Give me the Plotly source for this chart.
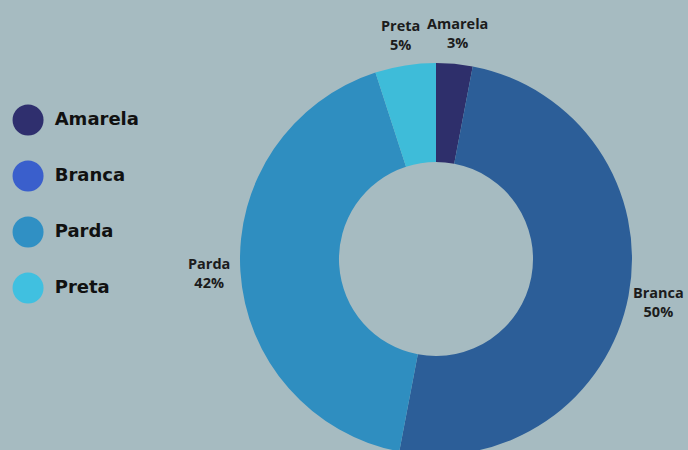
import math
import plotly.graph_objects as go

# Share of the population by colour/race category
categories = ["Amarela", "Branca", "Parda", "Preta"]
shares = [3, 50, 42, 5]

slice_colors = ["#2e2f6b", "#2c5e98", "#2f8ec0", "#3ebcd9"]
legend_colors = ["#2f2f6e", "#3a5fcc", "#3090c4", "#40c0e0"]

BG = "#a6bbc1"
W, H = 688, 455
TOP = 63
CX, CY, R = 436, 259, 196      # donut centre / outer radius in pixels
LABEL_R = 227                  # radius at which the slice labels sit

fig = go.Figure()

# Donut chart, first slice starting at 12 o'clock and going clockwise
fig.add_trace(go.Pie(
    labels=categories,
    values=shares,
    sort=False,
    direction="clockwise",
    rotation=0,
    hole=0.495,
    marker=dict(colors=slice_colors, line=dict(width=0)),
    textinfo="none",
    domain=dict(x=[(CX - R) / W, (CX + R) / W], y=[0, 1]),
    showlegend=False,
    hoverinfo="label+percent",
))


def to_paper(px, py):
    return px / W, (H - py) / (H - TOP)


# Slice labels placed along each slice's mid angle
total = sum(shares)
cum = 0
for name, val in zip(categories, shares):
    mid = (cum + val / 2) / total * 2 * math.pi
    cum += val
    px = CX + LABEL_R * math.sin(mid)
    py = CY - LABEL_R * math.cos(mid)
    x, y = to_paper(px, py)
    fig.add_annotation(
        x=x, y=y, xref="paper", yref="paper",
        text=f"{name}<br>{val}%",
        showarrow=False, align="center",
        xanchor="center", yanchor="middle",
        font=dict(family="Open Sans", size=14.5, color="#1c1c1c", weight="bold"),
    )

# Custom legend with round markers, stacked top to bottom
n = len(categories)
legend_y = list(range(n - 1, -1, -1))
fig.add_trace(go.Scatter(
    x=[28] * n,
    y=legend_y,
    mode="markers+text",
    marker=dict(size=31, color=legend_colors, line=dict(width=0)),
    text=[" " + c for c in categories],
    textposition="middle right",
    textfont=dict(family="DejaVu Sans", size=18, color="#111111", weight="bold"),
    showlegend=False,
    hoverinfo="skip",
    cliponaxis=False,
))

# y range chosen so the legend rows are ~56 px apart
span = (H - TOP) / 56
ymax = 3 + (120 - TOP) / 56
fig.update_layout(
    width=W,
    height=H,
    margin=dict(l=0, r=0, t=TOP, b=0),
    paper_bgcolor=BG,
    plot_bgcolor=BG,
    xaxis=dict(domain=[0, 0.3], range=[0, 206], visible=False, fixedrange=True),
    yaxis=dict(domain=[0, 1], range=[ymax - span, ymax], visible=False, fixedrange=True),
)

fig.write_html(
    "out.html",
    post_script="document.documentElement.style.overflow='hidden';"
                "document.body.style.overflow='hidden';document.body.style.margin='0';",
)
